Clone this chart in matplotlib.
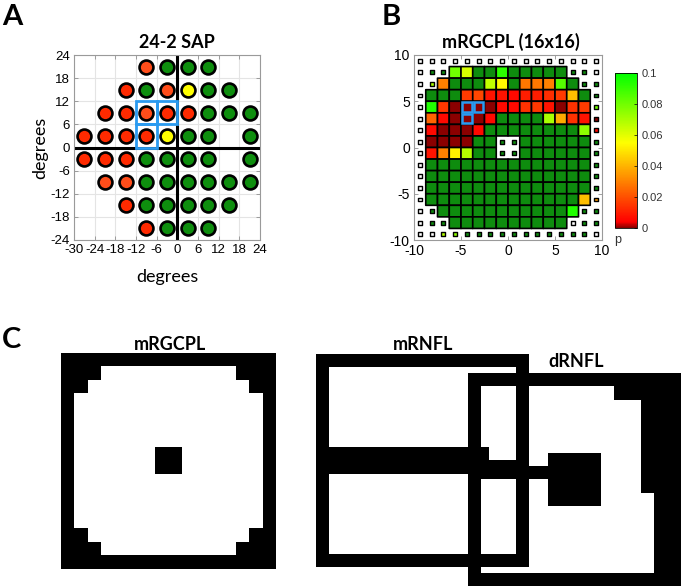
import numpy as np
import matplotlib
matplotlib.use("Agg")
import matplotlib.pyplot as plt
from matplotlib.colors import LinearSegmentedColormap, Normalize
from matplotlib.patches import Rectangle
from matplotlib.cm import ScalarMappable

plt.rcParams["font.family"] = ["Liberation Sans", "DejaVu Sans"]
plt.rcParams["axes.unicode_minus"] = False

# ---------------- data ----------------
# A: 24-2 SAP test locations (degrees) and result class per location
sap_x = [-9, -3, 3, 9,
         -15, -9, -3, 3, 9, 15,
         -21, -15, -9, -3, 3, 9, 15, 21,
         -27, -21, -15, -9, -3, 3, 9, 21,
         -27, -21, -15, -9, -3, 3, 9, 21,
         -21, -15, -9, -3, 3, 9, 15, 21,
         -15, -9, -3, 3, 9, 15,
         -9, -3, 3, 9]
sap_y = [21]*4 + [15]*6 + [9]*8 + [3]*8 + [-3]*8 + [-9]*8 + [-15]*6 + [-21]*4
sap_class = ["o", "g", "g", "g",
             "r", "g", "o", "y", "g", "g",
             "r", "r", "o", "r", "r", "g", "g", "g",
             "r", "r", "r", "r", "y", "g", "g", "g",
             "r", "r", "r", "g", "g", "g", "g", "g",
             "o", "o", "g", "g", "g", "g", "g", "g",
             "r", "g", "g", "g", "g", "g",
             "r", "g", "g", "g"]
sap_marked = [(-9, 9), (-3, 9), (-9, 3)]

# B: mRGCPL p-values on a 16x16 grid (row 0 = top), nan = no value
n = np.nan
g = 0.5   # above the colour scale
mrgcpl_p = [
    [n, n, n, n, n, n, n, n, n, n, n, n, n, n, n, n],
    [n, g, g, .080, .062, g, g, .092, g, g, g, g, g, g, g, n],
    [n, .070, .030, g, g, g, .066, .054, g, .028, .028, .030, .085, g, g, g],
    [n, g, g, g, .016, .018, .008, .008, .006, .010, .010, .013, .016, .042, g, g],
    [n, .094, .015, 0, 0, 0, 0, .006, .006, .014, .015, .008, 0, .014, .016, .080],
    [n, .024, .006, 0, 0, 0, .006, g, g, g, g, .070, .038, .014, .008, 0],
    [n, .006, 0, 0, 0, .006, g, g, g, g, g, g, g, g, .075, .006],
    [n, 0, 0, 0, 0, g, g, g, g, g, g, g, g, g, g, g],
    [n, .008, .030, .052, .068, g, g, g, g, g, g, g, g, g, g, g],
    [n, g, g, g, g, g, g, g, g, g, g, g, g, g, g, g],
    [n, g, g, g, g, g, g, g, g, g, g, g, g, g, g, g],
    [n, g, g, g, g, g, g, g, g, g, g, g, g, g, g, g],
    [n, g, g, g, g, g, g, g, g, g, g, g, g, g, .042, .035],
    [n, g, g, g, g, g, g, g, g, g, g, g, g, .094, g, g],
    [n, g, g, g, g, g, g, g, g, g, g, g, g, n, g, g],
    [n, n, .068, .075, g, g, g, g, g, g, g, g, g, g, g, n],
]
rgc_marked = [(4, 4), (4, 5), (5, 4)]   # (row, col)
cbar_ticks = [0, 0.02, 0.04, 0.06, 0.08, 0.1]
cbar_labels = ["0", "0.02", "0.04", "0.06", "0.08", "0.1"]

# C: binary region masks (1 = inside region)
rgc_rows = ["0000000000000000",
            "0001111111111000",
            "0011111111111100",
            "0111111111111110",
            "0111111111111110",
            "0111111111111110",
            "0111111111111110",
            "0111111001111110",
            "0111111001111110",
            "0111111111111110",
            "0111111111111110",
            "0111111111111110",
            "0111111111111110",
            "0011111111111100",
            "0001111111111000",
            "0000000000000000"]
mrnfl_rows = ["0000000000000000"] + ["0111111111111110"]*6 + \
             ["0000000000000110", "0000000000000000"] + \
             ["0111111111111110"]*6 + ["0000000000000000"]
drnfl_rows = ["0000000000000000",
              "0111111111100000",
              "0111111111111000",
              "0111111111111000",
              "0111111111111000",
              "0111111111111000",
              "0111110000111000",
              "0000000000111000",
              "0111110000111000",
              "0111110000111100",
              "0111111111111100",
              "0111111111111100",
              "0111111111111100",
              "0111111111111100",
              "0111111111111100",
              "0000000000000000"]

def to_grid(rows):
    return np.array([[int(c) for c in r] for r in rows])

rgc_mask = to_grid(rgc_rows)
mrnfl_mask = to_grid(mrnfl_rows)
drnfl_mask = to_grid(drnfl_rows)

# ---------------- figure ----------------
W, H = 683, 587
fig = plt.figure(figsize=(W/100, H/100), dpi=100)

def px_axes(x0, y0, x1, y1):
    return fig.add_axes([x0/W, 1 - y1/H, (x1 - x0)/W, (y1 - y0)/H])

def px_text(x, y, s, **kw):
    fig.text(x/W, 1 - y/H, s, **kw)

blue = "#2b9bf0"
title_kw = dict(family="Lato", fontweight="bold", fontsize=13, ha="center", va="baseline")
letter_kw = dict(family="Lato", fontweight="bold", fontsize=21, ha="left", va="baseline")

# ---- panel A ----
sap_colors = {"r": "#ff2a00", "o": "#ff4d1a", "y": "#ffff00", "g": "#0e8e0e"}
ax = px_axes(74, 55, 260, 240)
ax.set_xlim(-30, 24)
ax.set_ylim(-24, 24)
ax.set_xticks(range(-30, 25, 6))
ax.set_yticks(range(-24, 25, 6))
ax.grid(color="#e4e4e4", lw=0.8)
ax.set_axisbelow(True)
ax.tick_params(direction="in", length=3, width=0.6, color="#909090", labelsize=9.5,
               top=True, right=True, pad=3)
for sp in ax.spines.values():
    sp.set_color("#9a9a9a")
    sp.set_linewidth(0.8)
ax.axhline(0, color="k", lw=2.2, zorder=2)
ax.axvline(0, color="k", lw=2.2, zorder=2)
for cls, col in sap_colors.items():
    xs = [x for x, c in zip(sap_x, sap_class) if c == cls]
    ys = [y for y, c in zip(sap_y, sap_class) if c == cls]
    ax.plot(xs, ys, "o", ms=10, mfc=col, mec="k", mew=1.9, zorder=3)
for x, y in sap_marked:
    ax.add_patch(Rectangle((x - 3, y - 3), 6, 6, fill=False, ec=blue, lw=2, zorder=4))
px_text(177, 48, "24-2 SAP", **title_kw)
px_text(167, 282, "degrees", family="Lato", fontsize=13, ha="center", va="baseline")
px_text(40, 148, "degrees", family="Lato", fontsize=13, ha="center", va="center", rotation=90)
px_text(2, 25, "A", **letter_kw)

# ---- panel B ----
cmap = LinearSegmentedColormap.from_list(
    "pmap", [(0, "#8b0000"), (0.04, "#ff0000"), (0.55, "#ffff00"), (1, "#00ff00")])
cmap.set_over("#0e8c0e")
cmap.set_bad("white")
norm = Normalize(vmin=0, vmax=0.1)

vals = np.array(mrgcpl_p, dtype=float)
inside = rgc_mask == 1
xe = np.linspace(-10, 10, 17)
ye = np.linspace(10, -10, 17)
xc = (xe[:-1] + xe[1:]) / 2
yc = (ye[:-1] + ye[1:]) / 2
XX, YY = np.meshgrid(xc, yc)

axb = px_axes(414, 55, 602, 240)
axb.pcolor(xe, ye, np.ma.masked_where(~inside, vals), cmap=cmap, norm=norm,
           edgecolors="k", linewidth=1.2)
dot_col = cmap(norm(np.ma.masked_invalid(vals[~inside])))
axb.scatter(XX[~inside], YY[~inside], marker="s", s=8, c=dot_col,
            edgecolors="k", linewidths=1.0, zorder=3)
for r, c in rgc_marked:
    axb.add_patch(Rectangle((xe[c] + 0.12, ye[r + 1] + 0.12), 1.01, 1.01,
                            fill=False, ec=blue, lw=1.8, zorder=4))
axb.set_xlim(-10, 10)
axb.set_ylim(-10, 10)
axb.set_xticks([-10, -5, 0, 5, 10])
axb.set_yticks([-10, -5, 0, 5, 10])
axb.tick_params(direction="in", length=3, width=0.6, color="#909090", labelsize=10,
                top=True, right=True, pad=3)
for sp in axb.spines.values():
    sp.set_color("#9a9a9a")
    sp.set_linewidth(0.8)
px_text(511, 48, "mRGCPL (16x16)", **title_kw)
px_text(382, 25, "B", **letter_kw)

cax = px_axes(615, 73, 637, 228)
cb = fig.colorbar(ScalarMappable(norm=norm, cmap=cmap), cax=cax)
cb.set_ticks(cbar_ticks)
cb.set_ticklabels(cbar_labels)
cb.ax.tick_params(direction="in", length=2, width=0.5, labelsize=8,
                  labelcolor="#333333", pad=3)
cb.outline.set_linewidth(0.6)
px_text(618, 243, "p", fontsize=9, ha="center", va="baseline", color="#333333")

# ---- panel C ----
axc1 = px_axes(61, 353, 276, 569)
axc1.imshow(rgc_mask, cmap="gray", vmin=0, vmax=1, interpolation="nearest", aspect="auto")
axc1.axis("off")

axc2 = px_axes(316, 354, 529, 567)
axc2.imshow(mrnfl_mask, cmap="gray", vmin=0, vmax=1, interpolation="nearest", aspect="auto")
axc2.axis("off")

# dRNFL drawn on top, white part see-through so both outlines stay visible
axc3 = px_axes(468, 373, 681, 586)
axc3.imshow(np.ma.masked_where(drnfl_mask == 1, drnfl_mask), cmap="gray", vmin=0, vmax=1,
            interpolation="nearest", aspect="auto")
axc3.axis("off")

px_text(170, 350, "mRGCPL", **title_kw)
px_text(423, 350, "mRNFL", **title_kw)
px_text(576, 367, "dRNFL", **title_kw)
px_text(2, 348, "C", **letter_kw)

fig.savefig("out.png", dpi=100)
